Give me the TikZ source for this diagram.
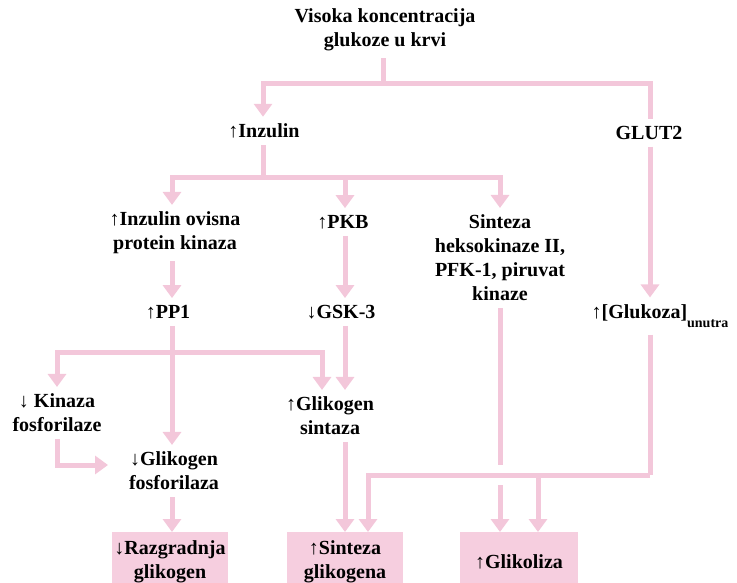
\documentclass[tikz,border=0pt]{standalone}
\usepackage{fontspec}
\setmainfont{Liberation Serif}
\usepackage{tikz}
\usetikzlibrary{arrows.meta,calc,positioning}
\definecolor{linepink}{RGB}{243,199,218}
\definecolor{boxpink}{RGB}{246,206,223}

\begin{document}
\begin{tikzpicture}[x=1pt, y=-1pt,
    lbl/.style={font=\bfseries\fontsize{20}{24}\selectfont, align=center, inner sep=0pt, outer sep=7pt},
    res/.style={lbl, fill=boxpink, minimum width=116pt, minimum height=60pt, outer sep=0pt, anchor=north},
    conn/.style={draw=linepink, line width=5pt},
    arr/.style={conn, -{Triangle[width=18pt,length=13pt]}}]
  \clip (0,0) rectangle (737,583);
  % Labels
  \node[lbl] (visoka) at (385,30) {Visoka koncentracija\\glukoze u krvi};
  \node[lbl] (inzulin) at (264,131) {↑Inzulin};
  \node[lbl] (glut) at (649,133) {GLUT2};
  \node[lbl] (ipk) at (175,233) {↑Inzulin ovisna\\protein kinaza};
  \node[lbl] (pkb) at (343,222) {↑PKB};
  \node[lbl] (hk) at (500,258) {Sinteza\\heksokinaze II,\\PFK-1, piruvat\\kinaze};
  \node[lbl] (pp1) at (168,312) {↑PP1};
  \node[lbl] (gsk) at (341,312) {↓GSK-3};
  \node[lbl] (gluk) at (660,316) {↑[Glukoza]\raisebox{-9pt}{\fontsize{14}{14}\selectfont unutra}};
  \node[lbl] (kin) at (57,413) {↓ Kinaza\\fosforilaze};
  \node[lbl] (gs) at (330,416) {↑Glikogen\\sintaza};
  \node[lbl] (gf) at (174,471) {↓Glikogen\\fosforilaza};
  % Results
  \node[res] (razg) at (170,532) {↓Razgradnja\\glikogen};
  \node[res] (sg) at (345,532) {↑Sinteza\\glikogena};
  \node[res, minimum width=118pt] (glik) at (519,532) {↑Glikoliza};
  % Junctions
  \coordinate (fork1) at (383,84);
  \coordinate (fork2) at (263,178);
  \coordinate (fork3) at (172,352);
  \coordinate (fork4) at (650,475);
  \coordinate (colB) at (172,0);
  \coordinate (colD) at (345,0);
  \coordinate (glikR) at ($(glik.north)+(19,0)$);
  % Connectors
  \draw[conn] (visoka.south -| fork1) -- (fork1);
  \draw[arr] (fork1) -| (inzulin.north -| fork2);
  \draw[conn] (fork1) -| (glut.north -| fork4);
  \draw[conn] (inzulin.south -| fork2) -- (fork2);
  \draw[arr] (fork2) -| (ipk.north -| colB);
  \draw[arr] (fork2) -| (pkb.north -| colD);
  \draw[arr] (fork2) -| (hk.north);
  \draw[arr] (ipk.south -| colB) -- (pp1.north -| colB);
  \draw[arr] (pkb.south -| colD) -- (gsk.north -| colD);
  \draw[arr] (glut.south -| fork4) -- (gluk.north -| fork4);
  \draw[conn] (pp1.south -| colB) -- (fork3);
  \draw[arr] (fork3) -| (kin.north);
  \draw[arr] (fork3) -| ($(gs.north)+(-8,0)$);
  \draw[arr] (fork3) -- (gf.north -| colB);
  \draw[arr] (gsk.south -| colD) -- (gs.north -| colD);
  \draw[arr, shorten >=14pt] (kin.south) |- ($(gf.west)+(0,-6)$);
  \draw[arr] (gf.south -| colB) -- (razg.north -| colB);
  \draw[arr] (gs.south -| colD) -- (sg.north -| colD);
  \draw[conn] (gluk.south -| fork4) -- (fork4);
  \draw[arr] (fork4) -| ($(sg.north)+(23,0)$);
  \draw[arr] (glikR |- fork4) -- (glikR);
  % line from hk passes under the fork4 line
  \draw[conn] (hk.south) -- ($(hk.south |- fork4)+(0,-10)$);
  \draw[arr] ($(hk.south |- fork4)+(0,10)$) -- (glik.north -| hk.south);
\end{tikzpicture}
\end{document}
